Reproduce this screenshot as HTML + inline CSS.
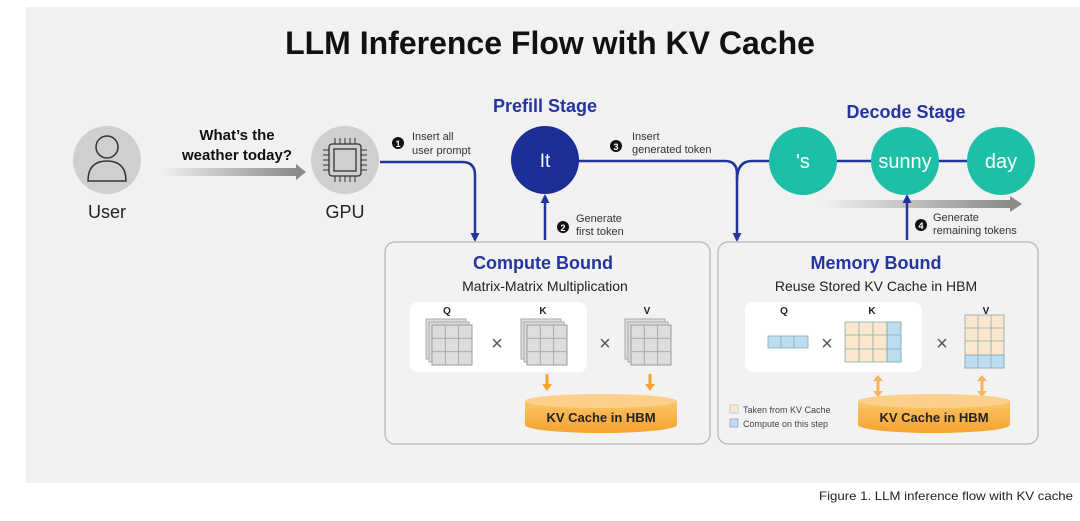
<!DOCTYPE html>
<html><head><meta charset="utf-8"><style>
body{margin:0;width:1080px;height:521px;background:#fff;overflow:hidden}
svg{display:block}
text{font-family:"Liberation Sans",sans-serif}
</style></head><body>
<svg width="1080" height="521" viewBox="0 0 1080 521" xmlns="http://www.w3.org/2000/svg">
<defs>
<linearGradient id="ga" x1="0" x2="1"><stop offset="0" stop-color="#f2f2f2"/><stop offset="1" stop-color="#8a8a8a"/></linearGradient>
<linearGradient id="cyl" x1="0" x2="0" y1="0" y2="1"><stop offset="0" stop-color="#fbc56a"/><stop offset="1" stop-color="#f5a22e"/></linearGradient>
<marker id="ah" markerUnits="userSpaceOnUse" markerWidth="9" markerHeight="9" refX="7" refY="4.5" orient="auto"><path d="M0,0 L9,4.5 L0,9 z" fill="#23349a"/></marker>
<g id="mat"><rect x="0" y="0" width="40" height="40" fill="#ddd" stroke="#aaa"/><rect x="3" y="3" width="40" height="40" fill="#ddd" stroke="#aaa"/><rect x="6" y="6" width="40" height="40" fill="#ddd" stroke="#999"/><path d="M19.3 6V46M32.6 6V46M6 19.3H46M6 32.6H46" stroke="#aaa"/></g>
</defs>
<rect x="26" y="7" width="1054" height="476" fill="#f1f1f1"/>
<text x="550" y="54" font-size="32" font-weight="bold" text-anchor="middle" fill="#111">LLM Inference Flow with KV Cache</text>
<!-- user -->
<circle cx="107" cy="160" r="34" fill="#cfcfcf"/>
<circle cx="107" cy="147" r="11" fill="none" stroke="#333" stroke-width="1.5"/>
<path d="M88 181 Q88 161 107 161 Q126 161 126 181 Z" fill="none" stroke="#333" stroke-width="1.5"/>
<text x="107" y="218" font-size="18" text-anchor="middle" fill="#222">User</text>
<text x="237" y="140" font-size="15" font-weight="bold" text-anchor="middle" fill="#111">What’s the</text>
<text x="237" y="160" font-size="15" font-weight="bold" text-anchor="middle" fill="#111">weather today?</text>
<rect x="160" y="168" width="136" height="8" fill="url(#ga)"/><path d="M296 164 L306 172 L296 180 Z" fill="#8a8a8a"/>
<!-- gpu -->
<circle cx="345" cy="160" r="34" fill="#cfcfcf"/>
<rect x="329" y="144" width="32" height="32" rx="3" fill="none" stroke="#333" stroke-width="1.3"/>
<rect x="334" y="149" width="22" height="22" fill="none" stroke="#333" stroke-width="1.3"/>
<path d="M335 144v-6M340 144v-6M345 144v-6M350 144v-6M355 144v-6M335 176v6M340 176v6M345 176v6M350 176v6M355 176v6M329 150h-6M329 155h-6M329 160h-6M329 165h-6M329 170h-6M361 150h6M361 155h6M361 160h6M361 165h6M361 170h6" stroke="#333"/>
<text x="345" y="218" font-size="18" text-anchor="middle" fill="#222">GPU</text>
<!-- connectors -->
<path d="M380 162 H462 Q475 162 475 175 V240" fill="none" stroke="#23349a" stroke-width="2.5" marker-end="url(#ah)"/>
<circle cx="398" cy="143" r="6" fill="#111"/><text x="398" y="147" font-size="9" font-weight="bold" fill="#fff" text-anchor="middle">1</text>
<text x="412" y="140" font-size="11" fill="#333">Insert all</text><text x="412" y="154" font-size="11" fill="#333">user prompt</text>
<text x="545" y="112" font-size="18" font-weight="bold" text-anchor="middle" fill="#24359f">Prefill Stage</text>
<path d="M545 240 V196" fill="none" stroke="#23349a" stroke-width="2.5" marker-end="url(#ah)"/>
<path d="M578 161 H725 Q737 161 737 174 V240" fill="none" stroke="#23349a" stroke-width="2.5" marker-end="url(#ah)"/>
<path d="M737 180 Q737 161 752 161 H1000" fill="none" stroke="#23349a" stroke-width="2.5"/>
<circle cx="545" cy="160" r="34" fill="#1d2d96"/>
<text x="545" y="167" font-size="19" text-anchor="middle" fill="#fff">It</text>
<circle cx="563" cy="227" r="6" fill="#111"/><text x="563" y="231" font-size="9" font-weight="bold" fill="#fff" text-anchor="middle">2</text>
<text x="576" y="222" font-size="11" fill="#333">Generate</text><text x="576" y="235" font-size="11" fill="#333">first token</text>
<circle cx="616" cy="146" r="6" fill="#111"/><text x="616" y="150" font-size="9" font-weight="bold" fill="#fff" text-anchor="middle">3</text>
<text x="632" y="140" font-size="11" fill="#333">Insert</text><text x="632" y="153" font-size="11" fill="#333">generated token</text>
<text x="906" y="118" font-size="18" font-weight="bold" text-anchor="middle" fill="#24359f">Decode Stage</text>
<rect x="820" y="200" width="190" height="8" fill="url(#ga)"/><path d="M1010 196 L1022 204 L1010 212 Z" fill="#8a8a8a"/>
<path d="M907 240 V196" fill="none" stroke="#23349a" stroke-width="2.5" marker-end="url(#ah)"/>
<circle cx="803" cy="161" r="34" fill="#1dbfa6"/><text x="803" y="168" font-size="20" text-anchor="middle" fill="#fff">'s</text>
<circle cx="905" cy="161" r="34" fill="#1dbfa6"/><text x="905" y="168" font-size="20" text-anchor="middle" fill="#fff">sunny</text>
<circle cx="1001" cy="161" r="34" fill="#1dbfa6"/><text x="1001" y="168" font-size="20" text-anchor="middle" fill="#fff">day</text>
<circle cx="921" cy="225" r="6" fill="#111"/><text x="921" y="229" font-size="9" font-weight="bold" fill="#fff" text-anchor="middle">4</text>
<text x="933" y="221" font-size="11" fill="#333">Generate</text><text x="933" y="234" font-size="11" fill="#333">remaining tokens</text>
<!-- compute box -->
<rect x="385" y="242" width="325" height="202" rx="10" fill="#f2f2f2" stroke="#b5b5b5" stroke-width="1.2"/>
<text x="543" y="269" font-size="18" font-weight="bold" text-anchor="middle" fill="#24359f">Compute Bound</text>
<text x="545" y="291" font-size="14" text-anchor="middle" fill="#222">Matrix-Matrix Multiplication</text>
<rect x="410" y="302" width="177" height="70" rx="8" fill="#fff"/>
<g font-size="10" font-weight="bold" text-anchor="middle" fill="#222"><text x="447" y="314">Q</text><text x="543" y="314">K</text><text x="647" y="314">V</text></g>
<use href="#mat" x="426" y="319"/><use href="#mat" x="521" y="319"/><use href="#mat" x="625" y="319"/>
<g font-size="20" fill="#555" text-anchor="middle"><text x="497" y="350">×</text><text x="605" y="350">×</text></g>
<path d="M547 374v10M650 374v10" stroke="#f5a22e" stroke-width="3"/><path d="M542 384h10l-5 7zM645 384h10l-5 7z" fill="#f5a22e"/>
<path d="M525 401 V425 A76 8 0 0 0 677 425 V401" fill="url(#cyl)"/><ellipse cx="601" cy="401" rx="76" ry="7" fill="#fcd08a"/>
<text x="601" y="422" font-size="13" font-weight="bold" text-anchor="middle" fill="#222">KV Cache in HBM</text>
<!-- memory box -->
<rect x="718" y="242" width="320" height="202" rx="10" fill="#f2f2f2" stroke="#b5b5b5" stroke-width="1.2"/>
<text x="876" y="269" font-size="18" font-weight="bold" text-anchor="middle" fill="#24359f">Memory Bound</text>
<text x="876" y="291" font-size="14" text-anchor="middle" fill="#222">Reuse Stored KV Cache in HBM</text>
<rect x="745" y="302" width="177" height="70" rx="8" fill="#fff"/>
<g font-size="10" font-weight="bold" text-anchor="middle" fill="#222"><text x="784" y="314">Q</text><text x="872" y="314">K</text><text x="986" y="314">V</text></g>
<g stroke="#8aa" stroke-width="0.8">
<rect x="768" y="336" width="40" height="12" fill="#bcdcf0"/><path d="M781 336v12M794 336v12"/>
<rect x="845" y="322" width="56" height="40" fill="#fbe7cd"/><rect x="887" y="322" width="14" height="40" fill="#bcdcf0"/><path d="M859 322v40M873 322v40M887 322v40M845 335h56M845 349h56"/>
<rect x="965" y="315" width="39" height="53" fill="#fbe7cd"/><rect x="965" y="355" width="39" height="13" fill="#bcdcf0"/><path d="M978 315v53M991 315v53M965 328h39M965 341h39M965 355h39"/>
</g>
<g font-size="20" fill="#555" text-anchor="middle"><text x="827" y="350">×</text><text x="942" y="350">×</text></g>
<path d="M878 379v14M982 379v14" stroke="#f5b35c" stroke-width="3"/><path d="M873 381h10l-5-6zM873 391h10l-5 6zM977 381h10l-5-6zM977 391h10l-5 6z" fill="#f5b35c"/>
<path d="M858 401 V425 A76 8 0 0 0 1010 425 V401" fill="url(#cyl)"/><ellipse cx="934" cy="401" rx="76" ry="7" fill="#fcd08a"/>
<text x="934" y="422" font-size="13" font-weight="bold" text-anchor="middle" fill="#222">KV Cache in HBM</text>
<rect x="730" y="405" width="8" height="8" fill="#fbe7cd" stroke="#ccc"/><text x="743" y="413" font-size="9" fill="#444">Taken from KV Cache</text>
<rect x="730" y="419" width="8" height="8" fill="#bcdcf0" stroke="#aac"/><text x="743" y="427" font-size="9" fill="#444">Compute on this step</text>
<text x="1073" y="500" font-size="12" text-anchor="end" fill="#222" textLength="254" lengthAdjust="spacingAndGlyphs">Figure 1. LLM inference flow with KV cache</text>
</svg>
</body></html>
